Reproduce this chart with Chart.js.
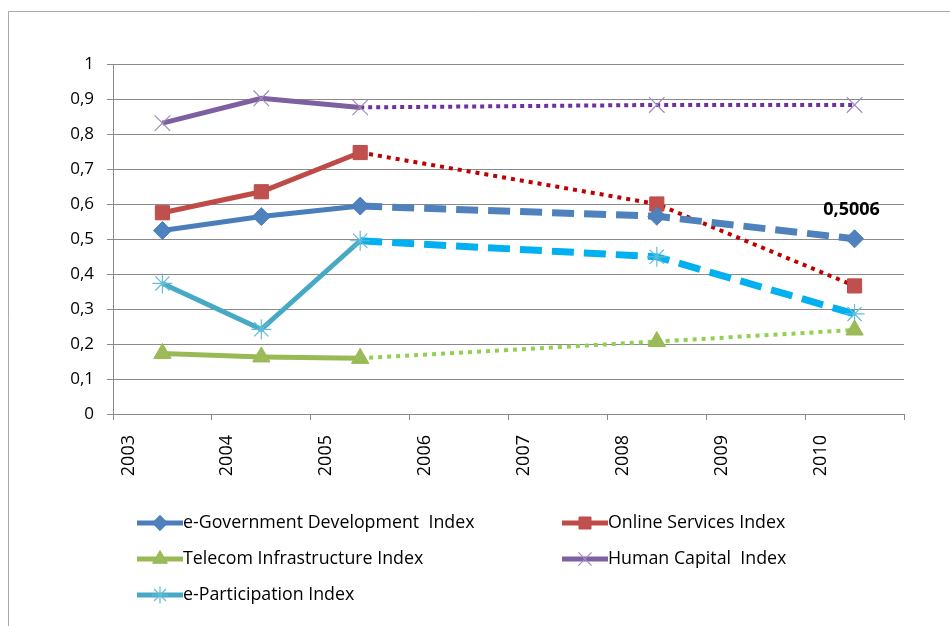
<!DOCTYPE html>
<html>
<head>
<meta charset="utf-8">
<title>E-Government indices</title>
<script src="https://cdn.jsdelivr.net/npm/chart.js"></script>
<style>
  html, body { margin: 0; padding: 0; background: #fff; }
  #chart { display: block; }
</style>
</head>
<body>
<canvas id="chart" width="950" height="626"></canvas>
<script>
// Survey years on the category axis (empty years are spanned by the lines)
const years = ['2003', '2004', '2005', '2006', '2007', '2008', '2009', '2010'];

const eGovIndex        = [0.524, 0.564, 0.594, null, null, 0.565, null, 0.5006];
const onlineServices   = [0.575, 0.635, 0.747, null, null, 0.600, null, 0.366];
const telecomInfra     = [0.173, 0.163, 0.159, null, null, 0.207, null, 0.240];
const humanCapital     = [0.831, 0.902, 0.876, null, null, 0.883, null, 0.883];
const eParticipation   = [0.373, 0.242, 0.495, null, null, 0.449, null, 0.286];

const seriesNames = [
    'e-Government Development  Index',
    'Online Services Index',
    'Telecom Infrastructure Index',
    'Human Capital  Index',
    'e-Participation Index'
];

const yTicks = [0, 0.1, 0.2, 0.3, 0.4, 0.5, 0.6, 0.7, 0.8, 0.9, 1];

const FONT = '"Open Sans", "Liberation Sans", sans-serif';
const GRID = '#8a8a8a';

// lines after 2005 switch to a dashed / dotted style
function laterPart(solid, later) {
    return ctx => ctx.p0DataIndex >= 2 ? later : solid;
}

function makeSeries(label, data, s) {
    return {
        label: label,
        data: data,
        spanGaps: true,
        borderColor: s.line,
        borderWidth: 5,
        borderCapStyle: 'butt',
        pointStyle: s.marker,
        pointRadius: s.radius,
        pointBorderWidth: s.markerWidth,
        pointBackgroundColor: s.fill,
        pointBorderColor: s.stroke,
        segment: {
            borderColor: laterPart(s.line, s.laterColor),
            borderDash: laterPart([], s.dash),
            borderWidth: laterPart(5, s.laterWidth)
        }
    };
}

const datasets = [
    makeSeries(seriesNames[0], eGovIndex, {
        line: '#4A7EBB', laterColor: '#4F81BD', dash: [22, 10], laterWidth: 7,
        marker: 'rectRot', radius: 9, markerWidth: 1, fill: '#4F81BD', stroke: '#4A7EBB'
    }),
    makeSeries(seriesNames[1], onlineServices, {
        line: '#BE4B48', laterColor: '#C00000', dash: [4, 5], laterWidth: 4,
        marker: 'rect', radius: 10, markerWidth: 1, fill: '#C0504D', stroke: '#BE4B48'
    }),
    makeSeries(seriesNames[2], telecomInfra, {
        line: '#98B954', laterColor: '#92D050', dash: [4, 5], laterWidth: 4,
        marker: 'triangle', radius: 10, markerWidth: 1, fill: '#9BBB59', stroke: '#98B954'
    }),
    makeSeries(seriesNames[3], humanCapital, {
        line: '#7D60A0', laterColor: '#7030A0', dash: [4, 4], laterWidth: 4,
        marker: 'crossRot', radius: 11, markerWidth: 1.2, fill: '#9E8AC0', stroke: '#9E8AC0'
    }),
    makeSeries(seriesNames[4], eParticipation, {
        line: '#46AAC5', laterColor: '#00B0F0', dash: [22, 10], laterWidth: 7,
        marker: 'star', radius: 10, markerWidth: 1.2, fill: '#62BCD6', stroke: '#62BCD6'
    })
];

function commaNumber(v) {
    return String(v).replace('.', ',');
}

// outer frame of the chart object
const framePlugin = {
    id: 'frame',
    beforeDraw(chart) {
        const ctx = chart.ctx;
        ctx.save();
        ctx.strokeStyle = '#a8a8a8';
        ctx.lineWidth = 1;
        ctx.beginPath();
        ctx.moveTo(8.5, chart.height);
        ctx.lineTo(8.5, 11.5);
        ctx.lineTo(chart.width, 11.5);
        ctx.stroke();
        ctx.restore();
    }
};

// value label on the last e-Government point
const valueLabelPlugin = {
    id: 'valueLabel',
    afterDatasetsDraw(chart) {
        const meta = chart.getDatasetMeta(0);
        const last = eGovIndex.length - 1;
        const pt = meta.data[last];
        const ctx = chart.ctx;
        ctx.save();
        ctx.font = 'bold 18px ' + FONT;
        ctx.fillStyle = '#000';
        ctx.textAlign = 'center';
        ctx.textBaseline = 'middle';
        ctx.fillText(commaNumber(eGovIndex[last]), pt.x - 3, pt.y - 29);
        ctx.restore();
    }
};

// two-column legend under the axis
const legendPlugin = {
    id: 'gridLegend',
    afterDraw(chart) {
        const ctx = chart.ctx;
        const colX = [137, 562];
        const rowY = 523;
        const rowGap = 36;
        ctx.save();
        chart.data.datasets.forEach((ds, i) => {
            const x = colX[i % 2];
            const y = rowY + Math.floor(i / 2) * rowGap;
            ctx.strokeStyle = ds.borderColor;
            ctx.lineWidth = 5;
            ctx.lineCap = 'butt';
            ctx.setLineDash([]);
            ctx.beginPath();
            ctx.moveTo(x, y);
            ctx.lineTo(x + 46, y);
            ctx.stroke();
            ctx.fillStyle = ds.pointBackgroundColor;
            ctx.strokeStyle = ds.pointBorderColor;
            ctx.lineWidth = ds.pointBorderWidth;
            Chart.helpers.drawPoint(ctx, {
                pointStyle: ds.pointStyle,
                radius: ds.pointRadius * 0.85,
                borderWidth: ds.pointBorderWidth,
                rotation: 0
            }, x + 23, y);
            ctx.font = '17.8px ' + FONT;
            ctx.fillStyle = '#000';
            ctx.textAlign = 'left';
            ctx.textBaseline = 'middle';
            ctx.fillText(ds.label, x + 46, y);
        });
        ctx.restore();
    }
};

new Chart(document.getElementById('chart'), {
    type: 'line',
    data: { labels: years, datasets: datasets },
    plugins: [framePlugin, valueLabelPlugin, legendPlugin],
    options: {
        responsive: false,
        animation: false,
        events: [],
        layout: { padding: { top: 64, right: 46, left: 0, bottom: 0 } },
        plugins: {
            legend: { display: false },
            tooltip: { enabled: false }
        },
        scales: {
            x: {
                type: 'category',
                offset: true,
                afterFit(scale) { scale.height = 212; },
                border: { color: GRID, width: 1 },
                grid: {
                    offset: true,
                    drawOnChartArea: false,
                    drawTicks: true,
                    tickLength: 6,
                    color: GRID
                },
                ticks: {
                    color: '#000',
                    font: { family: FONT, size: 18 },
                    minRotation: 90,
                    maxRotation: 90,
                    labelOffset: -34,
                    padding: 15
                }
            },
            y: {
                min: 0,
                max: 1,
                afterFit(scale) { scale.width = 113; },
                afterBuildTicks(scale) {
                    scale.ticks = yTicks.map(v => ({ value: v }));
                },
                border: { color: GRID, width: 1 },
                grid: {
                    color: GRID,
                    lineWidth: 1,
                    drawTicks: true,
                    tickLength: 6
                },
                ticks: {
                    color: '#000',
                    font: { family: FONT, size: 17 },
                    padding: 13,
                    callback: v => commaNumber(Math.round(v * 10) / 10)
                }
            }
        }
    }
});
</script>
</body>
</html>
